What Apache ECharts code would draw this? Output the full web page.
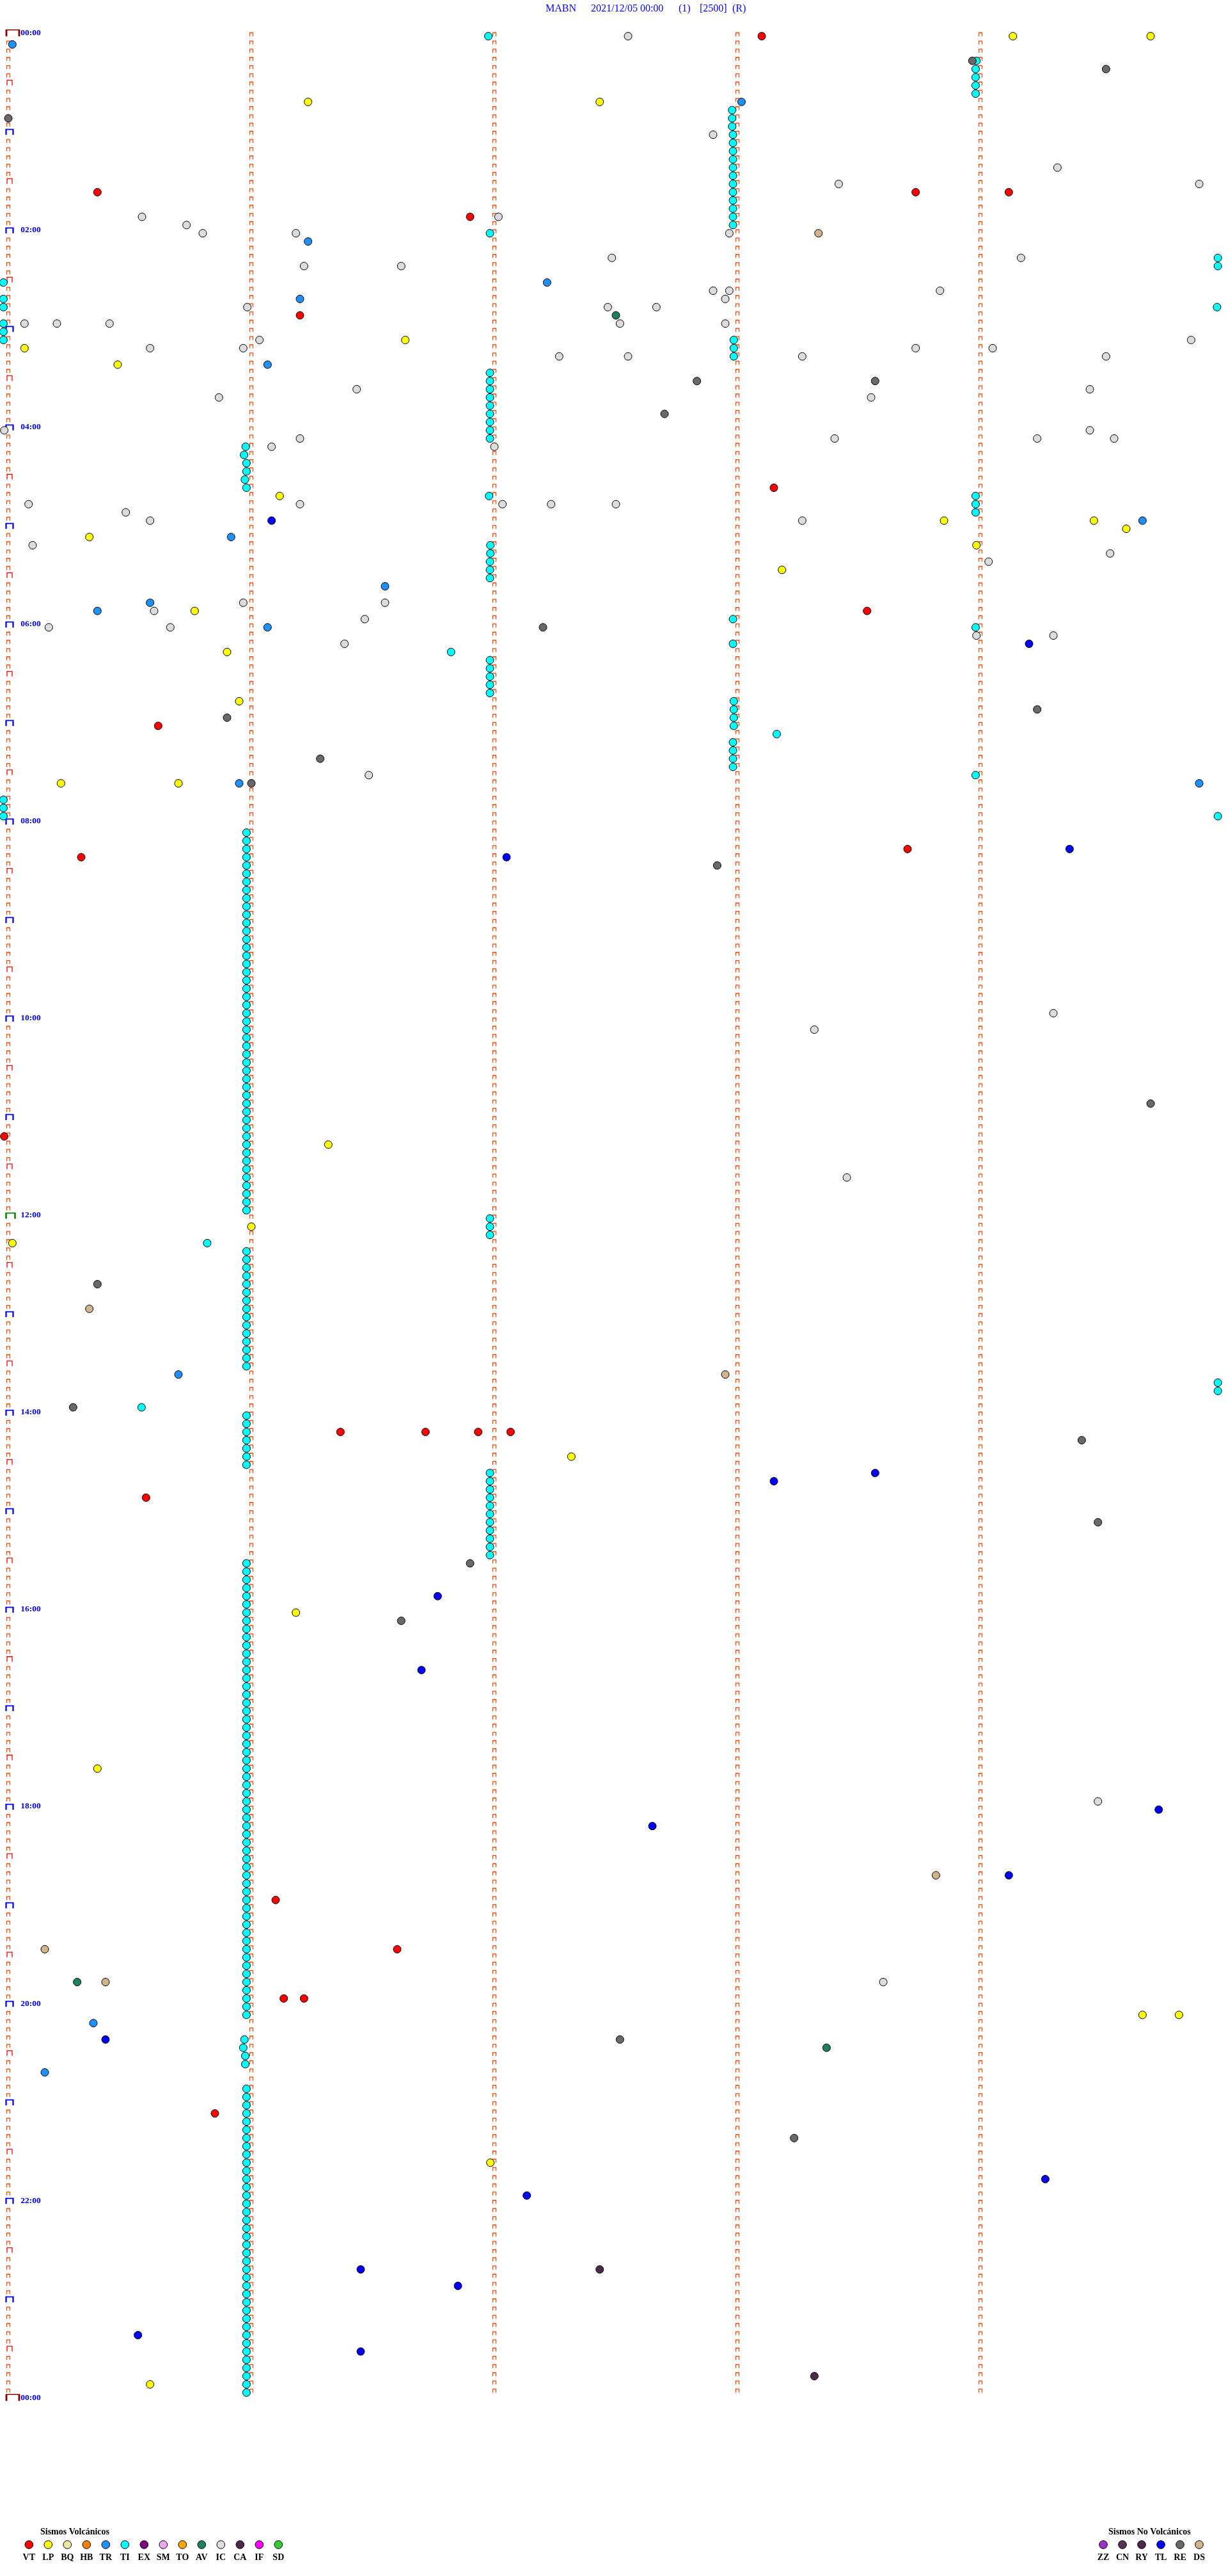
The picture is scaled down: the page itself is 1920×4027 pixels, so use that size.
<!DOCTYPE html>
<html><head><meta charset="utf-8">
<script src="https://cdn.jsdelivr.net/npm/echarts@6/dist/echarts.min.js"></script>
<style>html,body{margin:0;padding:0;background:#fff}#c{width:1920px;height:4027px}</style>
</head><body><div id="c"></div>
<script>
// ---------------- DATA ----------------
// each event: [row start "HH:MM" (5-minute rows), seconds within the 5-minute row]
const titleParts = ['MABN', '2021/12/05 00:00', '(1)', '[2500]', '(R)'];
const tickLabels = ['00:00','02:00','04:00','06:00','08:00','10:00','12:00','14:00','16:00','18:00','20:00','22:00','00:00'];
const minuteMarks = [0, 60, 120, 180, 240];
const legendVolc = ['VT','LP','BQ','HB','TR','TI','EX','SM','TO','AV','IC','CA','IF','SD'];
const legendNoVolc = ['ZZ','CN','RY','TL','RE','DS'];

const VT = [["00:00",186],["01:35",22],["01:35",224],["01:35",247],["01:50",114],["02:50",72],["04:35",189],["05:50",212],["07:00",37],["08:15",222],["08:20",18],["11:10",-1],["14:10",82],["14:10",103],["14:10",116],["14:10",124],["14:50",34],["18:55",66],["19:25",96],["19:55",68],["19:55",73],["21:05",51]];
const LP = [["00:00",248],["00:00",282],["00:40",74],["00:40",146],["03:05",98],["03:10",4],["03:20",27],["04:40",67],["04:55",231],["04:55",268],["05:00",276],["05:05",20],["05:10",239],["05:25",191],["05:50",46],["06:15",54],["06:45",57],["07:35",13],["07:35",42],["11:15",79],["12:05",60],["12:15",1],["14:25",139],["16:00",71],["17:35",22],["20:05",280],["20:05",289],["21:35",119],["23:50",35]];
const TR = [["00:05",1],["00:40",181],["02:05",74],["02:30",133],["02:40",72],["03:20",64],["04:55",280],["05:05",55],["05:35",93],["05:45",35],["05:50",22],["06:00",64],["07:35",57],["07:35",294],["13:35",42],["20:10",21],["20:40",9]];
const TI = [
["00:00",118.5],
["00:15",239],["00:20",238.8],["00:25",238.8],["00:30",238.8],["00:35",238.8],
["00:45",178.7],["00:50",178.7],["00:55",178.7],["01:00",178.9],["01:05",178.9],["01:10",178.9],["01:15",178.9],["01:20",178.9],["01:25",178.9],["01:30",178.9],["01:35",178.9],["01:40",178.9],["01:45",178.9],["01:50",178.9],["01:55",178.9],
["02:00",118.9],
["02:15",298.6],["02:20",298.6],
["02:30",-1.2],["02:40",-1.2],["02:45",-1.2],["02:45",298.4],["02:55",-1.2],["03:00",-1.2],["03:05",-1.2],
["03:05",179.1],["03:10",179.1],["03:15",179.1],
["03:25",118.9],["03:30",118.9],["03:35",118.9],["03:40",118.9],["03:45",118.9],["03:50",118.9],["03:55",118.9],["04:00",118.9],["04:05",118.9],
["04:10",58.6],["04:15",58.2],["04:20",58.8],["04:25",58.8],["04:30",58.4],["04:35",58.8],
["04:40",118.7],
["04:40",238.8],["04:45",238.8],["04:50",238.8],
["05:10",119],["05:15",119],["05:20",118.9],["05:25",118.9],["05:30",118.9],
["05:55",178.9],["06:00",238.8],["06:10",178.9],["06:15",109.3],
["06:20",118.9],["06:25",118.9],["06:30",118.9],["06:35",118.9],["06:40",118.9],
["06:45",179.1],["06:50",179.1],["06:55",179.1],["07:00",179.1],
["07:05",189.7],
["07:10",178.9],["07:15",178.9],["07:20",178.9],["07:25",178.9],
["07:30",238.8],
["07:45",-1.2],["07:50",-1.2],["07:55",-1.2],["07:55",298.6],
["08:05",58.8],["08:10",58.8],["08:15",58.8],["08:20",58.8],["08:25",58.8],["08:30",58.8],["08:35",58.8],["08:40",58.8],["08:45",58.8],["08:50",58.8],["08:55",58.8],
["09:00",58.8],["09:05",58.8],["09:10",58.8],["09:15",58.8],["09:20",58.8],["09:25",58.8],["09:30",58.8],["09:35",58.8],["09:40",58.8],["09:45",58.8],["09:50",58.8],["09:55",58.8],
["10:00",58.8],["10:05",58.8],["10:10",58.8],["10:15",58.8],["10:20",58.8],["10:25",58.8],["10:30",58.8],["10:35",58.8],["10:40",58.8],["10:45",58.8],["10:50",58.8],["10:55",58.8],
["11:00",58.8],["11:05",58.8],["11:10",58.8],["11:15",58.8],["11:20",58.8],["11:25",58.8],["11:30",58.8],["11:35",58.8],["11:40",58.8],["11:45",58.8],["11:50",58.8],["11:55",58.8],
["12:00",118.9],["12:05",118.9],["12:10",118.9],
["12:15",49.1],
["12:20",58.8],["12:25",58.8],["12:30",58.8],["12:35",58.8],["12:40",58.8],["12:45",58.8],["12:50",58.8],["12:55",58.8],
["13:00",58.8],["13:05",58.8],["13:10",58.8],["13:15",58.8],["13:20",58.8],["13:25",58.8],["13:30",58.8],
["13:40",298.6],["13:45",298.6],
["13:55",32.9],
["14:00",58.8],["14:05",58.8],["14:10",58.8],["14:15",58.8],["14:20",58.8],["14:25",58.8],["14:30",58.8],
["14:35",118.9],["14:40",118.9],["14:45",118.9],["14:50",118.9],["14:55",118.9],["15:00",118.9],["15:05",118.9],["15:10",118.9],["15:15",118.9],["15:20",118.9],["15:25",118.9],
["15:30",58.8],["15:35",58.8],["15:40",58.8],["15:45",58.8],["15:50",58.8],["15:55",58.8],
["16:00",58.8],["16:05",58.8],["16:10",58.8],["16:15",58.8],["16:20",58.8],["16:25",58.8],["16:30",58.8],["16:35",58.8],["16:40",58.8],["16:45",58.8],["16:50",58.8],["16:55",58.8],
["17:00",58.8],["17:05",58.8],["17:10",58.8],["17:15",58.8],["17:20",58.8],["17:25",58.8],["17:30",58.8],["17:35",58.8],["17:40",58.8],["17:45",58.8],["17:50",58.8],["17:55",58.8],
["18:00",58.8],["18:05",58.8],["18:10",58.8],["18:15",58.8],["18:20",58.8],["18:25",58.8],["18:30",58.8],["18:35",58.8],["18:40",58.8],["18:45",58.8],["18:50",58.8],["18:55",58.8],
["19:00",58.8],["19:05",58.8],["19:10",58.8],["19:15",58.8],["19:20",58.8],["19:25",58.8],["19:30",58.8],["19:35",58.8],["19:40",58.8],["19:45",58.8],["19:50",58.8],["19:55",58.8],
["20:00",58.8],["20:05",58.8],
["20:20",58.3],["20:25",58.0],["20:30",58.5],["20:35",58.5],
["20:50",58.8],["20:55",58.8],
["21:00",58.8],["21:05",58.8],["21:10",58.8],["21:15",58.8],["21:20",58.8],["21:25",58.8],["21:30",58.8],["21:35",58.8],["21:40",58.8],["21:45",58.8],["21:50",58.8],["21:55",58.8],
["22:00",58.8],["22:05",58.8],["22:10",58.8],["22:15",58.8],["22:20",58.8],["22:25",58.8],["22:30",58.8],["22:35",58.8],["22:40",58.8],["22:45",58.8],["22:50",58.8],["22:55",58.8],
["23:00",58.8],["23:05",58.8],["23:10",58.8],["23:15",58.8],["23:20",58.8],["23:25",58.8],["23:30",58.8],["23:35",58.8],["23:40",58.8],["23:45",58.8],["23:50",58.8],["23:55",58.8]
];
const AV = [["02:50",150],["19:45",17],["20:25",202]];
const IC = [["00:00",153],["01:00",174],["01:20",259],["01:30",205],["01:30",294],["01:50",33],["01:50",121],["01:55",44],
["02:00",48],["02:00",71],["02:00",178],["02:15",149],["02:15",250],["02:20",73],["02:20",97],
["02:35",174],["02:35",178],["02:35",230],["02:40",177],["02:45",59],["02:45",148],["02:45",160],
["02:55",4],["02:55",12],["02:55",25],["02:55",151],["02:55",177],["03:05",62],["03:05",292],
["03:10",35],["03:10",58],["03:10",224],["03:10",243],["03:15",136],["03:15",153],["03:15",196],["03:15",271],
["03:35",86],["03:35",267],["03:40",52],["03:40",213],["04:00",-1],["04:00",267],
["04:05",72],["04:05",204],["04:05",254],["04:05",273],["04:10",65],["04:10",120],
["04:45",5],["04:45",72],["04:45",122],["04:45",134],["04:45",150],["04:50",29],["04:55",35],["04:55",196],
["05:10",6],["05:15",272],["05:20",242],["05:45",58],["05:45",93],["05:50",36],["05:55",88],
["06:00",10],["06:00",40],["06:05",239],["06:05",258],["06:10",83],["07:30",89],
["09:55",258],["10:05",199],["11:35",207],["17:55",269],["19:45",216]];
const CA = [["22:40",146],["23:45",199]];
const TL = [["04:55",65],["06:10",252],["08:15",262],["08:20",123],["14:35",214],["14:40",189],["15:50",106],["16:35",102],["18:00",284],["18:10",159],["18:40",247],["20:20",24],["21:45",256],["21:55",128],["22:40",87],["22:50",111],["23:20",32],["23:30",87]];
const RE = [["00:15",238],["00:20",271],["00:50",0],["03:30",170],["03:30",214],["03:50",162],["06:00",132],["06:50",254],["06:55",54],["07:20",77],["07:35",60],["08:25",175],["10:50",282],["12:40",22],["13:55",16],["14:15",265],["15:05",269],["15:30",114],["16:05",97],["20:20",151],["21:20",194]];
const DS = [["02:00",200],["12:55",20],["13:35",177],["18:40",229],["19:25",9],["19:45",24]];

// ---------------- STYLE ----------------
const COLORS = {VT:'#FF0000',LP:'#FFFF00',BQ:'#F2E6A6',HB:'#FF8000',TR:'#1E90FF',TI:'#00FFFF',EX:'#800080',SM:'#EEA8EE',TO:'#FFA500',AV:'#1E8060',IC:'#DCDCDC',CA:'#4A2C4A',IF:'#FF00FF',SD:'#33CC33',
  ZZ:'#9933CC',CN:'#553355',RY:'#4A2A4A',TL:'#0000FF',RE:'#696969',DS:'#D2B48C'};
const EVENTS = {VT, LP, TR, TI, AV, IC, CA, TL, RE, DS};

function toXY(e){ const p=e[0].split(':').map(Number); return [e[1], p[0]*60+p[1]]; }

const ROWS = 288;
const regular=[], halfHour=[], hour=[], noon=[], dayEdge=[];
minuteMarks.forEach(m=>{
  for(let r=0;r<ROWS;r++){
    if(m===0 && r%6===0) continue;
    regular.push([m, r*5]);
  }
});
for(let r=0;r<=ROWS;r+=6){
  if(r===0||r===ROWS) dayEdge.push([0,r*5]);
  else if(r===144) noon.push([0,r*5]);
  else if(r%12===0) hour.push([0,r*5]);
  else halfHour.push([0,r*5]);
}
const CAP='path://M0,10 L0,0 L10,0 L10,10';
function markSeries(data,size,offset,color,w){
  return {type:'scatter',data,symbol:CAP,symbolSize:size,symbolOffset:offset,silent:true,z:1,
    itemStyle:{color:'rgba(0,0,0,0)',borderColor:color,borderWidth:w,opacity:1},clip:false};
}
const series=[
  markSeries(regular,[5,5.5],[0,-2.6],'#FF4500',1.3),
  markSeries(halfHour,[8,8],[2,-4.2],'#FF0000',1.3),
  markSeries(hour,[11,8.5],[2,-4.1],'#0000FF',2),
  markSeries(noon,[14,9],[3.5,-4],'#008000',2),
  markSeries(dayEdge,[20,10],[7,-4.9],'#8B0000',2)
];
Object.keys(EVENTS).forEach(k=>{
  series.push({type:'scatter',name:k,data:EVENTS[k].map(toXY),symbol:'circle',symbolSize:12,silent:true,z:3,clip:false,
    itemStyle:{color:COLORS[k],borderColor:'#000',borderWidth:1,opacity:1}});
});

// ---------------- GRAPHIC (title, legend) ----------------
const graphic=[];
const titleX=[853,924,1061,1094,1145];
titleParts.forEach((t,i)=>graphic.push({type:'text',x:titleX[i],y:14,style:{text:t,fill:'#0000FF',font:'16px "Liberation Serif"',textAlign:'left',textVerticalAlign:'middle',align:'left',verticalAlign:'middle'}}));
function legendBlock(title,list,x0,titleX){
  graphic.push({type:'text',x:titleX,y:3958,style:{text:title,fill:'#000',font:'bold 14px "Liberation Serif"',textAlign:'left',textVerticalAlign:'middle',align:'left',verticalAlign:'middle'}});
  list.forEach((k,i)=>{
    const cx=x0+30*i;
    graphic.push({type:'circle',shape:{cx:cx,cy:3978,r:6.3},style:{fill:COLORS[k],stroke:'#000',lineWidth:1}});
    graphic.push({type:'text',x:cx,y:3998,style:{text:k,fill:'#000',font:'bold 14px "Liberation Serif"',textAlign:'center',textVerticalAlign:'middle',align:'center',verticalAlign:'middle'}});
  });
}
legendBlock('Sismos Volcánicos',legendVolc,45.3,63);
legendBlock('Sismos No Volcánicos',legendNoVolc,1725,1733);

const chart=echarts.init(document.getElementById('c'),null,{renderer:'canvas'});
chart.setOption({
  animation:false,
  backgroundColor:'#fff',
  grid:{left:0.3333,top:56.6,width:1912.6667,height:3696.5},
  xAxis:{type:'value',min:-2,max:300,show:false},
  yAxis:{type:'value',inverse:true,min:0,max:1440,interval:120,
    axisLine:{show:false},axisTick:{show:false},splitLine:{show:false},
    axisLabel:{show:true,inside:true,margin:32,showMinLabel:true,showMaxLabel:true,
      color:'#0000FF',fontWeight:'bold',fontFamily:'Liberation Serif',fontSize:13.5,
      verticalAlign:'bottom',lineHeight:10,
      formatter:v=>tickLabels[Math.round(v/120)]}},
  series,
  graphic
});
</script></body></html>
